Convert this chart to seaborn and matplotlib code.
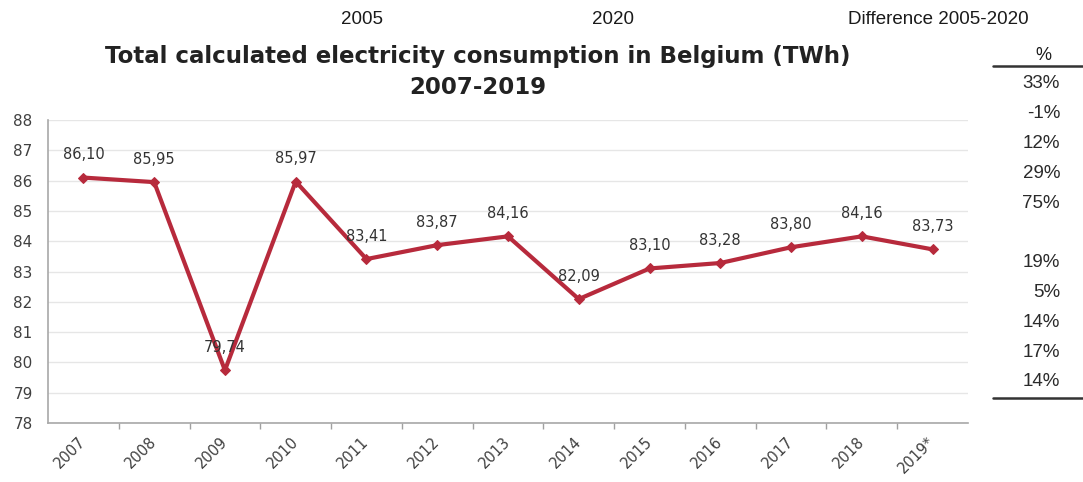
import matplotlib
matplotlib.use("Agg")
import matplotlib.pyplot as plt
import seaborn as sns
import pandas as pd
import numpy as np

years = ["2007", "2008", "2009", "2010", "2011", "2012", "2013",
         "2014", "2015", "2016", "2017", "2018", "2019*"]
consumption = [86.10, 85.95, 79.74, 85.97, 83.41, 83.87, 84.16,
               82.09, 83.10, 83.28, 83.80, 84.16, 83.73]
header_labels = ["2005", "2020", "Difference 2005-2020"]
pct_values = ["33%", "-1%", "12%", "29%", "75%", "", "19%", "5%",
              "14%", "17%", "14%"]

sns.set_theme(style="white")
plt.rcParams['font.family'] = ['DejaVu Sans']

df = pd.DataFrame({"idx": np.arange(len(years)), "value": consumption})

fig = plt.figure(figsize=(10.83, 4.82), dpi=100)
W, H = 1083, 482
ax = fig.add_axes([48 / W, 1 - 423 / H, (968 - 48) / W, (423 - 120) / H])

red = "#B72A3C"
sns.lineplot(data=df, x="idx", y="value", ax=ax, color=red, linewidth=3,
             marker="D", markersize=5, markeredgecolor=red, markerfacecolor=red)

ax.set_xlim(-0.5, len(years) - 0.5)
ax.set_ylim(78, 88)
ax.set_yticks(range(78, 89))
ax.yaxis.grid(True, color="#E6E6E6", linewidth=1)
ax.set_axisbelow(True)
ax.set_xlabel("")
ax.set_ylabel("")

ax.set_xticks(np.arange(len(years)))
ax.set_xticklabels(years, rotation=45, ha="right", va="center",
                   rotation_mode="anchor", fontsize=10.5, color="#404040")
ax.set_xticks(np.arange(0.5, len(years) - 0.5, 1), minor=True)
ax.tick_params(axis="x", which="major", length=0, pad=12)
ax.tick_params(axis="x", which="minor", length=4, color="#A0A0A0", width=1, bottom=True)
ax.tick_params(axis="y", length=0, labelsize=11, labelcolor="#404040", pad=11)

for s in ["top", "right"]:
    ax.spines[s].set_visible(False)
for s in ["left", "bottom"]:
    ax.spines[s].set_color("#A8A8A8")
    ax.spines[s].set_linewidth(1.2)

for i, v in enumerate(consumption):
    ax.annotate(f"{v:.2f}".replace(".", ","), (i, v), xytext=(0, 11),
                textcoords="offset points", ha="center", va="bottom",
                fontsize=10.5, color="#333333")

fig.text(478 / W, 1 - 56 / H, "Total calculated electricity consumption in Belgium (TWh)",
         ha="center", va="center", fontsize=16.5, fontweight="bold", color="#222222")
fig.text(478 / W, 1 - 88 / H, "2007-2019", ha="center", va="center",
         fontsize=16.5, fontweight="bold", color="#222222")

hx = [362, 613, 938]
for x, t in zip(hx, header_labels):
    fig.text(x / W, 1 - 20 / H, t, ha="center", va="center", fontsize=13.5,
             color="#1a1a1a", family="Liberation Sans")

fig.text(1043 / W, 1 - 55 / H, "%", ha="center", va="center", fontsize=13,
         color="#1a1a1a", family="Liberation Sans")
fig.add_artist(plt.Line2D([993 / W, 1083 / W], [1 - 66 / H, 1 - 66 / H],
                          color="#333333", linewidth=1.8))
fig.add_artist(plt.Line2D([993 / W, 1083 / W], [1 - 398 / H, 1 - 398 / H],
                          color="#333333", linewidth=1.8))
for k, t in enumerate(pct_values):
    y = 84 + k * 29.8
    fig.text(1060 / W, 1 - y / H, t, ha="right", va="center", fontsize=13.5,
             color="#2a2a2a", family="Liberation Sans")

fig.savefig("out.png", dpi=100)
